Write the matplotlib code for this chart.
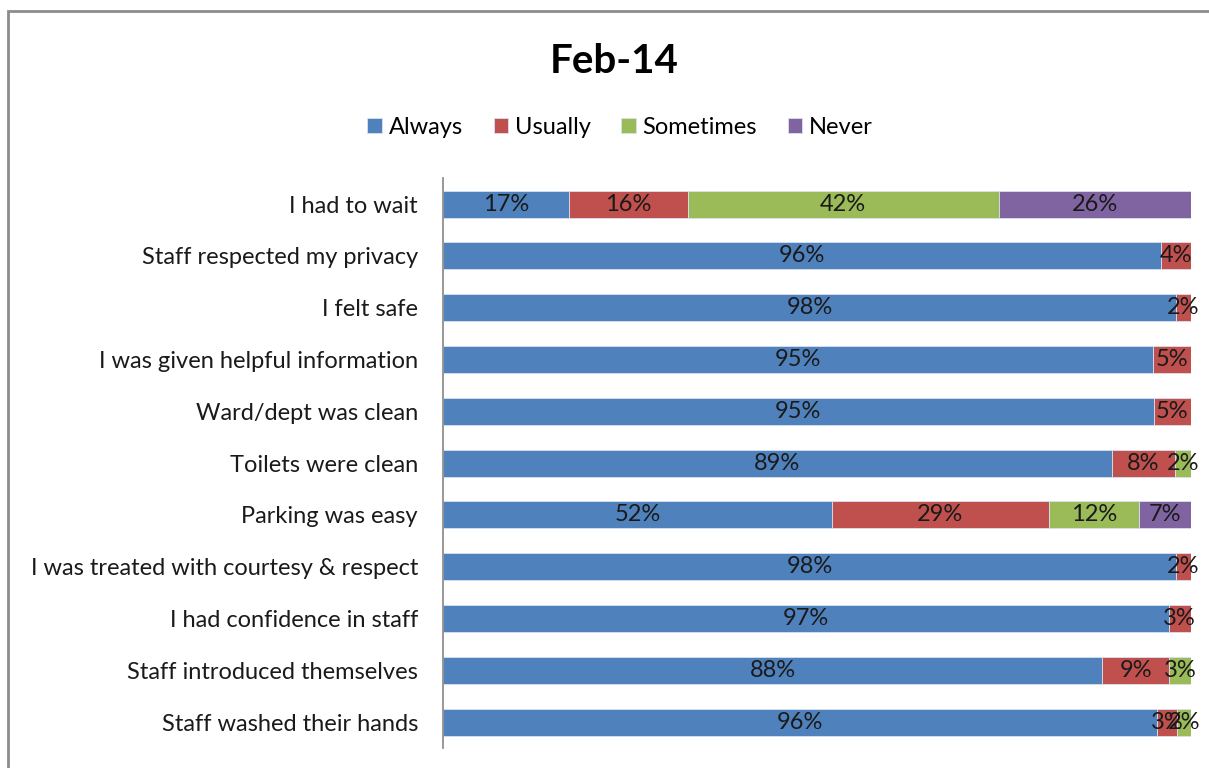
import numpy as np
import matplotlib.pyplot as plt
from matplotlib.patches import Rectangle

# data (fractions, top row first)
questions = [
    "I had to wait",
    "Staff respected my privacy",
    "I felt safe",
    "I was given helpful information",
    "Ward/dept was clean",
    "Toilets were clean",
    "Parking was easy",
    "I was treated with courtesy & respect",
    "I had confidence in staff",
    "Staff introduced themselves",
    "Staff washed their hands",
]
always = [0.168, 0.96, 0.98, 0.949, 0.95, 0.894, 0.52, 0.98, 0.97, 0.881, 0.955]
usually = [0.159, 0.04, 0.02, 0.051, 0.05, 0.085, 0.29, 0.02, 0.03, 0.09, 0.026]
sometimes = [0.416, 0.0, 0.0, 0.0, 0.0, 0.021, 0.12, 0.0, 0.0, 0.029, 0.019]
never = [0.257, 0.0, 0.0, 0.0, 0.0, 0.0, 0.07, 0.0, 0.0, 0.0, 0.0]

series = ["Always", "Usually", "Sometimes", "Never"]
colors = ["#4f81bd", "#c0504d", "#9bbb59", "#8064a2"]

plt.rcParams["font.family"] = ["Lato", "DejaVu Sans"]

fig = plt.figure(figsize=(12.09, 7.68), dpi=100)
ax = fig.add_axes([0.3664, 0.026, 0.6187, 0.742])

# chart border
fig.patches.append(Rectangle((0.0066, -0.02), 1.05, 1.006, transform=fig.transFigure,
                             fill=False, edgecolor="#8c8c8c", linewidth=2))

y = np.arange(len(questions))
left = np.zeros(len(questions))
for name, vals, col in zip(series, [always, usually, sometimes, never], colors):
    vals = np.array(vals)
    ax.barh(y, vals, left=left, height=0.52, color=col,
            edgecolor="#d9e1ee", linewidth=0.6, label=name)
    for yi, l, v in zip(y, left, vals):
        if v > 0:
            ax.text(l + v / 2, yi, f"{v * 100:.0f}%", ha="center", va="center",
                    fontsize=17, color="#1a1a1a")
    left = left + vals

ax.set_xlim(0, 1)
ax.set_ylim(len(questions) - 0.5, -0.5)
ax.set_yticks(y)
ax.set_yticklabels(questions, fontsize=17, color="#1a1a1a")
ax.tick_params(axis="y", length=0, pad=18)
ax.set_xticks([])
for s in ["top", "right", "bottom"]:
    ax.spines[s].set_visible(False)
ax.spines["left"].set_color("#868686")
ax.spines["left"].set_linewidth(1.2)

fig.text(0.508, 0.92, "Feb-14", ha="center", va="center", fontsize=29,
         fontweight="bold", color="black")
fig.legend(loc="center", bbox_to_anchor=(0.513, 0.834), ncol=4, frameon=False,
           fontsize=17, handlelength=0.6, handleheight=0.6, handletextpad=0.3,
           columnspacing=1.3)

fig.savefig("out.png", dpi=100)
